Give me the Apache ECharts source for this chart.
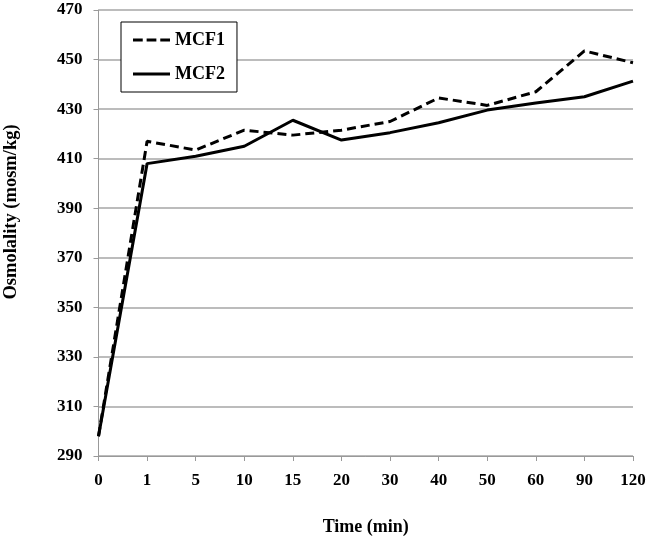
<!DOCTYPE html>
<html>
<head>
<meta charset="utf-8">
<script src="https://cdn.jsdelivr.net/npm/echarts@6/dist/echarts.min.js"></script>
<style>html,body{margin:0;padding:0;background:#fff}#c{width:653px;height:539px}</style>
</head>
<body>
<div id="c"></div>
<script>
var categories = ['0','1','5','10','15','20','30','40','50','60','90','120'];
var mcf1 = [298, 417, 413.5, 421.5, 419.5, 421.5, 425, 434.5, 431.5, 437, 453.5, 448.7];
var mcf2 = [298, 408, 411, 415, 425.5, 417.5, 420.5, 424.5, 429.6, 432.5, 435, 441.3];
var seriesNames = ['MCF1', 'MCF2'];
var xTitle = 'Time (min)';
var yTitle = 'Osmolality (mosm/kg)';

var font = '"Liberation Serif", "Times New Roman", serif';
var chart = echarts.init(document.getElementById('c'));
chart.setOption({
  animation: false,
  backgroundColor: '#fff',
  grid: { left: 98.5, right: 20, top: 10, bottom: 83, containLabel: false, outerBoundsMode: 'none' },
  legend: {
    orient: 'vertical',
    left: 121, top: 22,
    data: [
      { name: seriesNames[0], icon: 'path://M0,0h10v3h-10z M14,0h10v3h-10z M28,0h10v3h-10z' },
      { name: seriesNames[1], icon: 'path://M0,0h38v3h-38z' }
    ],
    itemWidth: 37, itemHeight: 3, itemGap: 14,
    padding: [8, 12, 8, 12],
    borderColor: '#000', borderWidth: 1,
    backgroundColor: '#fff',
    itemStyle: { color: '#000' },
    textStyle: { fontFamily: font, fontWeight: 'bold', fontSize: 18, color: '#000', lineHeight: 20 }
  },
  graphic: [{
    type: 'text', x: 11, y: 212, rotation: Math.PI / 2,
    style: { text: yTitle, fontFamily: font, fontWeight: 'bold', fontSize: 18.5, fill: '#000', align: 'center', verticalAlign: 'middle' }
  }],
  xAxis: {
    type: 'category', data: categories, boundaryGap: false,
    name: xTitle, nameLocation: 'middle', nameGap: 62,
    nameTextStyle: { fontFamily: font, fontWeight: 'bold', fontSize: 18, color: '#000' },
    axisLine: { lineStyle: { color: '#999', width: 1 } },
    axisTick: { show: true, length: 5, alignWithLabel: true, lineStyle: { color: '#999' } },
    axisLabel: { margin: 16, fontFamily: font, fontWeight: 'bold', fontSize: 17, color: '#000', interval: 0 },
    splitLine: { show: false }
  },
  yAxis: {
    type: 'value', min: 290, max: 470, interval: 20,
    axisLine: { show: true, lineStyle: { color: '#999', width: 1 } },
    axisTick: { show: true, length: 5, lineStyle: { color: '#999' } },
    axisLabel: { margin: 16, fontFamily: font, fontWeight: 'bold', fontSize: 17, color: '#000' },
    splitLine: { show: true, lineStyle: { color: '#a6a6a6', width: 1.5 } }
  },
  series: [
    { name: seriesNames[0], type: 'line', data: mcf1, symbol: 'none', z: 3,
      lineStyle: { color: '#000', width: 3, type: [9, 5] }, itemStyle: { color: '#000' } },
    { name: seriesNames[1], type: 'line', data: mcf2, symbol: 'none', z: 2,
      lineStyle: { color: '#000', width: 3, type: 'solid' }, itemStyle: { color: '#000' } }
  ]
});
</script>
</body>
</html>
